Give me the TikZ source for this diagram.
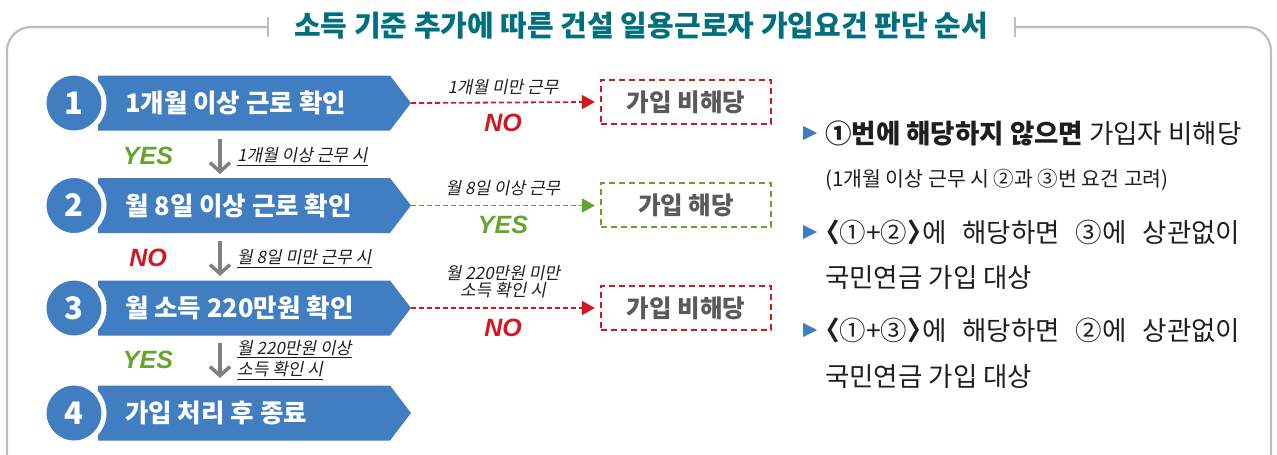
\documentclass[tikz,border=0pt]{standalone}
\usepackage{fontspec}
\setmainfont{Noto Sans CJK KR}
\newfontfamily\kr{Noto Sans CJK KR}
\newfontfamily\krit[FakeSlant=0.2]{Noto Sans CJK KR}
\newfontfamily\latbi{Liberation Sans}
\usetikzlibrary{arrows.meta}
\definecolor{stepblue}{RGB}{64,125,193}
\definecolor{titleteal}{RGB}{0,112,126}
\definecolor{nored}{RGB}{208,24,34}
\definecolor{yesgreen}{RGB}{100,165,45}
\definecolor{framegray}{RGB}{190,190,190}
\definecolor{boxtext}{RGB}{90,90,90}
\definecolor{bodytext}{RGB}{30,30,30}
\tikzset{
  frameline/.style={draw=framegray, line width=2.2pt},
  numcirc/.style={circle, fill=stepblue, draw=white, line width=5pt, minimum size=60pt, inner sep=0pt, text=white, font=\kr\bfseries\fontsize{31}{33}\selectfont},
  steptext/.style={anchor=west, inner sep=0pt, text=white, font=\kr\bfseries\fontsize{25.5}{28}\selectfont},
  yesno/.style={inner sep=0pt, font=\latbi\bfseries\itshape\fontsize{25}{28}\selectfont},
  downarrow/.style={draw=gray, line width=3.5pt, -{Straight Barb[length=9pt,width=20pt]}},
  condlabel/.style={anchor=base west, inner sep=0pt, text=bodytext, font=\krit\fontsize{17}{19}\selectfont},
  ulin/.style={draw=bodytext, line width=1pt},
  sidelabel/.style={inner sep=0pt, text=bodytext, font=\krit\fontsize{17}{19}\selectfont, align=center},
  resbox/.style={draw, line width=2.2pt, dash pattern=on 6pt off 4pt, minimum width=170pt, minimum height=44pt, inner sep=0pt, text=boxtext, font=\kr\bfseries\fontsize{24.5}{26}\selectfont},
  resarrow/.style={line width=1.8pt, dash pattern=on 5pt off 3pt, -{Triangle[length=13pt,width=14pt]}, shorten >=5pt},
  bodyline/.style={anchor=west, inner sep=0pt, text=bodytext, font=\kr\fontsize{26.5}{29}\selectfont},
  smallline/.style={anchor=west, inner sep=0pt, text=bodytext, font=\kr\fontsize{20.5}{22}\selectfont},
}
\begin{document}
\begin{tikzpicture}[x=1pt,y=-1pt]
\useasboundingbox (0,0) rectangle (1277,455);
% frame
\draw[frameline, rounded corners=24pt] (268,27) -- (7,27) -- (7,455);
\draw[frameline, rounded corners=24pt] (1015,27) -- (1271,27) -- (1271,455);
\draw[frameline] (268,17) -- (268,37);
\draw[frameline] (1015,17) -- (1015,37);
\node[inner sep=0pt, text=titleteal, font=\kr\bfseries\fontsize{29}{31}\selectfont] (title) at (641,26) {소득 기준 추가에 따른 건설 일용근로자 가입요건 판단 순서};

% step chevrons
\foreach \i/\yy in {1/103,2/205.5,3/308,4/413}{
  \fill[stepblue] (98,\yy-27.5) -- (390,\yy-27.5) -- (411,\yy) -- (390,\yy+27.5) -- (98,\yy+27.5) -- cycle;
  \coordinate (tip\i) at (411,\yy);
}
\node[numcirc] (n1) at (74,103) {1};
\node[numcirc] (n2) at (74,205.5) {2};
\node[numcirc] (n3) at (74,308) {3};
\node[numcirc] (n4) at (74,413) {4};
\node[steptext] (s1) at (125,103) {1개월 이상 근로 확인};
\node[steptext] (s2) at (125,205.5) {월 8일 이상 근로 확인};
\node[steptext] (s3) at (125,308) {월 소득 220만원 확인};
\node[steptext] (s4) at (125,413) {가입 처리 후 종료};

% between steps
\node[yesno, text=yesgreen] (y1) at (148,156) {YES};
\node[yesno, text=nored] (y2) at (148,258) {NO};
\node[yesno, text=yesgreen] (y3) at (148,360) {YES};
\coordinate (d1a) at (220,139); \coordinate (d1b) at (220,174);
\coordinate (d2a) at (220,241); \coordinate (d2b) at (220,276);
\coordinate (d3a) at (220,343); \coordinate (d3b) at (220,378);
\draw[downarrow] (d1a) -- (d1b);
\draw[downarrow] (d2a) -- (d2b);
\draw[downarrow] (d3a) -- (d3b);
\node[condlabel] (c1) at (237,161) {1개월 이상 근무 시};
\draw[ulin] ([yshift=-4pt]c1.base west) -- ([yshift=-4pt]c1.base east);
\node[condlabel] (c2) at (237,263) {월 8일 미만 근무 시};
\draw[ulin] ([yshift=-4pt]c2.base west) -- ([yshift=-4pt]c2.base east);
\node[condlabel] (c3a) at (237,354) {월 220만원 이상};
\draw[ulin] ([yshift=-3pt]c3a.base west) -- ([yshift=-3pt]c3a.base east);
\node[condlabel] (c3b) at (237,375) {소득 확인 시};
\draw[ulin] ([yshift=-4pt]c3b.base west) -- ([yshift=-4pt]c3b.base east);

% result boxes
\node[resbox, draw=nored] (r1) at (686,102) {가입 비해당};
\node[resbox, draw=yesgreen] (r2) at (686,205) {가입 해당};
\node[resbox, draw=nored] (r3) at (686,308) {가입 비해당};
\draw[resarrow, nored] (tip1) -- (r1.west);
\draw[resarrow, yesgreen] (tip2) -- (r2.west |- tip2);
\draw[resarrow, nored] (tip3) -- (r3.west |- tip3);
\node[sidelabel] (a1) at (503,87) {1개월 미만 근무};
\node[yesno, text=nored] (a1n) at (503,123) {NO};
\node[sidelabel] (a2) at (503,188) {월 8일 이상 근무};
\node[yesno, text=yesgreen] (a2n) at (503,225) {YES};
\node[sidelabel] (a3) at (503,282) {월 220만원 미만\\[-2pt]소득 확인 시};
\node[yesno, text=nored] (a3n) at (503,328) {NO};

% right notes
\foreach \yy in {133,232,330}{
  \fill[stepblue] (803,\yy-7) -- (817,\yy) -- (803,\yy+7) -- cycle;
}
\node[bodyline] (t1) at (825,133) {\textbf{①번에 해당하지 않으면} 가입자 비해당};
\node[smallline] (t2) at (825,180) {(1개월 이상 근무 시 ②과 ③번 요건 고려)};
\node[bodyline] (t3) at (825,232) {\hspace*{-0.45em}\makebox[427pt][s]{\textbf{〈}①+②\textbf{〉}\hspace{-0.45em}에 해당하면 ③에 상관없이}};
\node[bodyline] (t4) at (825,278) {국민연금 가입 대상};
\node[bodyline] (t5) at (825,330) {\hspace*{-0.45em}\makebox[427pt][s]{\textbf{〈}①+③\textbf{〉}\hspace{-0.45em}에 해당하면 ②에 상관없이}};
\node[bodyline] (t6) at (825,377) {국민연금 가입 대상};
\end{tikzpicture}
\end{document}
